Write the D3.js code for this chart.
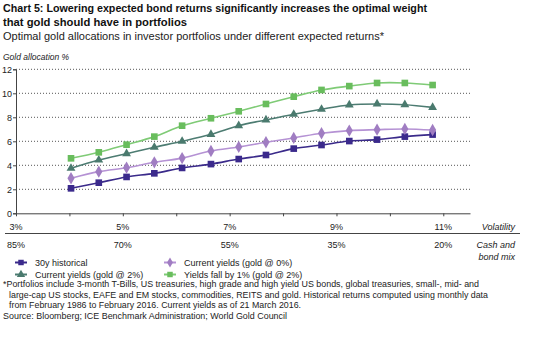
<!DOCTYPE html>
<html>
<head>
<meta charset="utf-8">
<script src="https://cdn.jsdelivr.net/npm/d3@7"></script>
<style>
  body { margin: 0; background: #fff; }
  svg { font-family: "Liberation Sans", Arial, sans-serif; }
</style>
</head>
<body>
<main></main>
<script>
// data
const volatility = [4.03, 4.55, 5.07, 5.59, 6.11, 6.65, 7.17, 7.68, 8.2, 8.72, 9.24, 9.76, 10.28, 10.8]
const hist30y = [2.08, 2.55, 3.03, 3.33, 3.78, 4.1, 4.52, 4.86, 5.39, 5.69, 6.02, 6.14, 6.39, 6.56]
const gold0 = [2.92, 3.47, 3.8, 4.25, 4.6, 5.19, 5.53, 5.92, 6.28, 6.67, 6.89, 6.97, 7.03, 6.94]
const gold2 = [3.75, 4.44, 4.97, 5.5, 6.0, 6.58, 7.3, 7.78, 8.25, 8.67, 9.03, 9.11, 9.05, 8.83]
const fall1 = [4.58, 5.08, 5.72, 6.39, 7.3, 7.92, 8.5, 9.11, 9.72, 10.28, 10.6, 10.86, 10.86, 10.69]

const yTicks = [0, 2, 4, 6, 8, 10, 12]
const volTicks = [3, 5, 7, 9, 11]
const volLabels = ["3%", "5%", "7%", "9%", "11%"]
const mixLabels = ["85%", "70%", "55%", "35%", "20%"]

const seriesNames = ["30y historical", "Current yields (gold @ 0%)", "Current yields (gold @ 2%)", "Yields fall by 1% (gold @ 2%)"]

const series = [
  { name: seriesNames[0], values: hist30y, line: "#3a2a8a", fill: "#3b2a8c", sym: d3.symbolSquare },
  { name: seriesNames[1], values: gold0, line: "#b592d4", fill: "#a07dc2", sym: d3.symbolDiamond },
  { name: seriesNames[2], values: gold2, line: "#4d7c72", fill: "#4a7a6e", sym: d3.symbolTriangle },
  { name: seriesNames[3], values: fall1, line: "#7fcb76", fill: "#69bd5d", sym: d3.symbolSquare }
]

const W = 542, H = 339
const svg = d3.select('main').append('svg')
    .attr('width', W)
    .attr('height', H)

const x = d3.scaleLinear().domain([3, 11.5]).range([16, 470])
const y = d3.scaleLinear().domain([0, 12]).range([213.3, 69.3])

// titles
svg.append('text').attr('x', 3).attr('y', 12)
    .attr('font-size', 11).attr('font-weight', 'bold').attr('fill', '#111')
    .attr('textLength', 424).attr('lengthAdjust', 'spacingAndGlyphs')
    .text('Chart 5: Lowering expected bond returns significantly increases the optimal weight')
svg.append('text').attr('x', 3).attr('y', 25.5)
    .attr('font-size', 11).attr('font-weight', 'bold').attr('fill', '#111')
    .attr('textLength', 184).attr('lengthAdjust', 'spacingAndGlyphs')
    .text('that gold should have in portfolios')
svg.append('text').attr('x', 3).attr('y', 39.5)
    .attr('font-size', 11).attr('fill', '#222')
    .attr('textLength', 381).attr('lengthAdjust', 'spacingAndGlyphs')
    .text('Optimal gold allocations in investor portfolios under different expected returns*')
svg.append('text').attr('x', 3).attr('y', 60)
    .attr('font-size', 8.5).attr('font-style', 'italic').attr('fill', '#222')
    .text('Gold allocation %')

// gridlines
svg.append('g').selectAll('line').data(yTicks.filter(d => d > 0)).join('line')
    .attr('x1', 16).attr('x2', 470)
    .attr('y1', d => y(d)).attr('y2', d => y(d))
    .attr('stroke', '#555').attr('stroke-width', 1)
    .attr('stroke-dasharray', '1,2')

// y axis
const yAxis = svg.append('g').attr('transform', 'translate(16,0)')
    .call(d3.axisLeft(y).tickValues(yTicks).tickSize(3).tickFormat(d3.format('d')))
yAxis.select('.domain').attr('stroke', '#444')
yAxis.selectAll('.tick line').attr('stroke', '#444')
yAxis.selectAll('.tick text').attr('font-size', 9).attr('fill', '#222')
    .attr('font-family', '"Liberation Sans", Arial, sans-serif').attr('x', -4)

// x axis
const xAxis = svg.append('g').attr('transform', `translate(0,${y(0)})`)
    .call(d3.axisBottom(x).tickValues(d3.range(3, 12)).tickSize(3).tickSizeOuter(0).tickFormat(''))
xAxis.select('.domain').attr('stroke', '#444')
xAxis.selectAll('.tick line').attr('stroke', '#444')

// volatility row
svg.append('g').selectAll('text').data(volTicks).join('text')
    .attr('x', d => x(d)).attr('y', 230)
    .attr('text-anchor', 'middle').attr('font-size', 9).attr('fill', '#222')
    .text((d, i) => volLabels[i])
svg.append('text').attr('x', 515).attr('y', 230).attr('text-anchor', 'end')
    .attr('font-size', 9).attr('font-style', 'italic').attr('fill', '#222')
    .text('Volatility')

svg.append('line').attr('x1', 5).attr('x2', 520).attr('y1', 233.5).attr('y2', 233.5)
    .attr('stroke', '#444').attr('stroke-width', 1)

// cash and bond mix row
svg.append('g').selectAll('text').data(volTicks).join('text')
    .attr('x', d => x(d)).attr('y', 247.5)
    .attr('text-anchor', 'middle').attr('font-size', 9).attr('fill', '#222')
    .text((d, i) => mixLabels[i])
svg.append('text').attr('x', 515).attr('y', 247.5).attr('text-anchor', 'end')
    .attr('font-size', 9).attr('font-style', 'italic').attr('fill', '#222')
    .text('Cash and')
svg.append('text').attr('x', 515).attr('y', 259.5).attr('text-anchor', 'end')
    .attr('font-size', 9).attr('font-style', 'italic').attr('fill', '#222')
    .text('bond mix')

// lines and markers
const line = d3.line()
    .x((d, i) => x(volatility[i]))
    .y(d => y(d))
    .curve(d3.curveCatmullRom.alpha(0.5))

series.forEach(s => {
  svg.append('path').datum(s.values)
      .attr('d', line)
      .attr('fill', 'none')
      .attr('stroke', s.line)
      .attr('stroke-width', 1.6)
  svg.append('g').selectAll('path').data(s.values).join('path')
      .attr('transform', (d, i) => `translate(${x(volatility[i])},${y(d)})`)
      .attr('d', d3.symbol().type(s.sym).size(s.sym === d3.symbolTriangle ? 34 : 44))
      .attr('fill', s.fill)
})

// legend: row1 = 30y historical, gold@0%; row2 = gold@2%, fall 1%
const legendPos = [[21, 262.5], [170, 262.5], [21, 274.5], [170, 274.5]]
const leg = svg.append('g')
series.forEach((s, j) => {
  const [lx, ly] = legendPos[j]
  leg.append('line').attr('x1', lx - 6).attr('x2', lx + 6).attr('y1', ly).attr('y2', ly)
      .attr('stroke', s.line).attr('stroke-width', 2)
  leg.append('path').attr('transform', `translate(${lx},${ly})`)
      .attr('d', d3.symbol().type(s.sym).size(30))
      .attr('fill', s.fill)
  leg.append('text').attr('x', lx + 14).attr('y', ly + 3.2)
      .attr('font-size', 9).attr('fill', '#222')
      .text(s.name)
})

// footnote
const notes = [
  ["*Portfolios include 3-month T-Bills, US treasuries, high grade and high yield US bonds, global treasuries, small-, mid- and", 3, 287.3, 476],
  ["large-cap US stocks, EAFE and EM stocks, commodities, REITS and gold. Historical returns computed using monthly data", 9, 297.8, 479],
  ["from February 1986 to February 2016. Current yields as of 21 March 2016.", 9, 307.5, 292],
  ["Source: Bloomberg; ICE Benchmark Administration; World Gold Council", 3, 319, 284]
]
svg.append('g').selectAll('text').data(notes).join('text')
    .attr('x', d => d[1]).attr('y', d => d[2])
    .attr('font-size', 8.5).attr('fill', '#222')
    .attr('textLength', d => d[3]).attr('lengthAdjust', 'spacingAndGlyphs')
    .text(d => d[0])
</script>
</body>
</html>
